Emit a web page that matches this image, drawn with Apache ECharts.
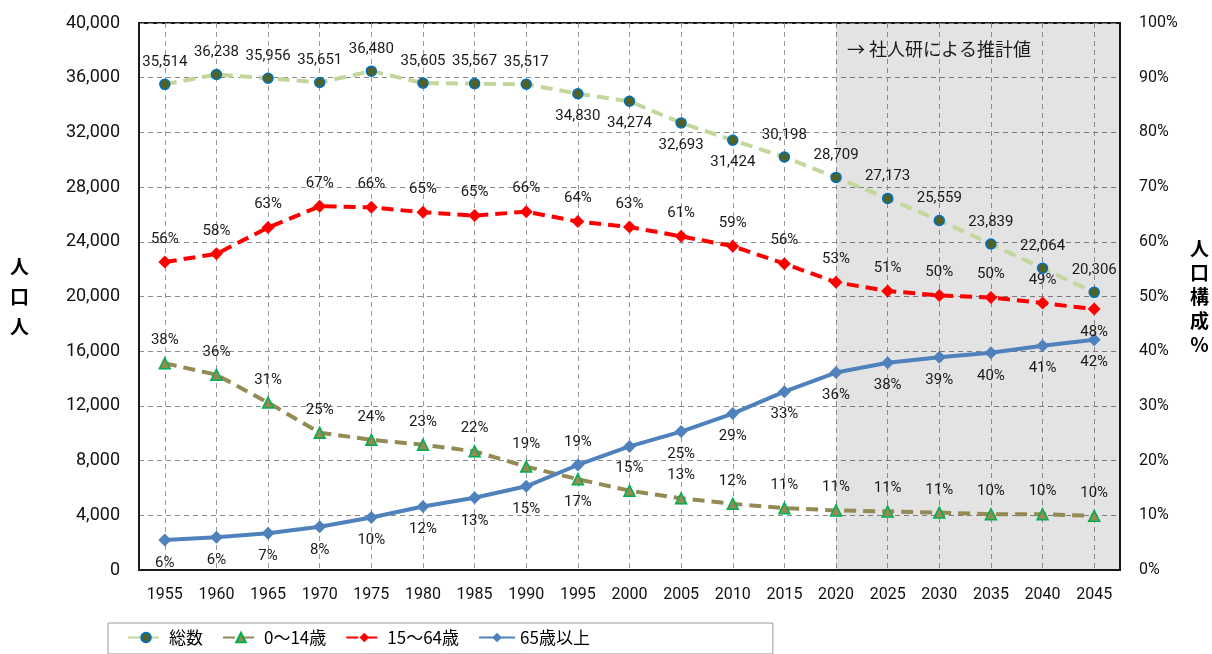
<!DOCTYPE html>
<html>
<head>
<meta charset="utf-8">
<script src="https://cdn.jsdelivr.net/npm/echarts@6/dist/echarts.min.js"></script>
<style>
html,body{margin:0;padding:0;background:#fff;}
#main{width:1212px;height:654px;}
</style>
</head>
<body>
<div id="main"></div>
<script>
// ---- data ----
const years = ['1955','1960','1965','1970','1975','1980','1985','1990','1995','2000','2005','2010','2015','2020','2025','2030','2035','2040','2045'];
const total = [35514, 36238, 35956, 35651, 36480, 35605, 35567, 35517, 34830, 34274, 32693, 31424, 30198, 28709, 27173, 25559, 23839, 22064, 20306];
const age0to14 = [37.8, 35.7, 30.6, 25.1, 23.8, 22.9, 21.7, 18.9, 16.6, 14.5, 13.1, 12.1, 11.3, 10.9, 10.7, 10.5, 10.2, 10.2, 9.9];
const age15to64 = [56.3, 57.8, 62.6, 66.5, 66.3, 65.4, 64.8, 65.5, 63.7, 62.7, 61.0, 59.2, 56.0, 52.6, 51.0, 50.2, 49.8, 48.8, 47.7];
const age65plus = [5.5, 6.0, 6.7, 7.9, 9.6, 11.6, 13.2, 15.3, 19.2, 22.6, 25.3, 28.6, 32.6, 36.1, 37.9, 38.9, 39.7, 41.0, 42.1];
const seriesNames = ['総数', '0〜14歳', '15〜64歳', '65歳以上'];
const projectionStart = '2020';
const projectionLabel = '→ 社人研による推計値';

// label placement exceptions (index -> position / hidden)
const totalBelow = [8, 9, 10, 11];
const young0Below = [8];
const old65Above = [8];
const old65Hidden = [9];

const fmtNum = v => String(v).replace(/\B(?=(\d{3})+(?!\d))/g, ',');
const pct = v => Math.round(v) + '%';

const labelBase = {show: true, color: '#1a1a1a', fontSize: 15, fontFamily: 'Roboto, sans-serif', distance: 9};

function buildData(values, altPos, altIdx, hiddenIdx) {
  return values.map((v, i) => {
    const item = {value: v};
    if (altIdx.indexOf(i) >= 0) item.label = {position: altPos};
    if (hiddenIdx && hiddenIdx.indexOf(i) >= 0) item.label = {show: false};
    return item;
  });
}

const chart = echarts.init(document.getElementById('main'), null, {renderer: 'canvas'});

const option = {
  backgroundColor: '#ffffff',
  animation: false,
  textStyle: {fontFamily: "Roboto, 'Noto Sans CJK JP', sans-serif"},
  grid: {left: 139, right: 91, top: 23, bottom: 84, show: true, borderColor: '#1a1a1a', borderWidth: 2, backgroundColor: 'transparent'},
  legend: {
    data: seriesNames,
    left: 108, top: 623,
    padding: [6, 183, 8, 19],
    itemGap: 19, itemWidth: 36, itemHeight: 12,
    borderColor: '#9a9a9a', borderWidth: 1,
    textStyle: {fontSize: 17, color: '#000', fontFamily: "'Noto Sans CJK JP', sans-serif"}
  },
  xAxis: {
    type: 'category',
    data: years,
    boundaryGap: true,
    axisLine: {show: true, lineStyle: {color: '#1a1a1a', width: 2}},
    axisTick: {show: false},
    axisLabel: {fontSize: 16, color: '#111', margin: 17, interval: 0},
    splitLine: {show: true, alignWithLabel: true, interval: 0, lineStyle: {color: '#9a9a9a', type: [5, 4], width: 1}}
  },
  yAxis: [
    {
      type: 'value', min: 0, max: 40000, interval: 4000,
      name: '人\n口\n人', nameLocation: 'middle', nameRotate: 0, nameGap: 110,
      nameTextStyle: {fontSize: 19, fontWeight: 'bold', color: '#000', lineHeight: 30, fontFamily: "'Noto Sans CJK JP', sans-serif"},
      axisLine: {show: true, lineStyle: {color: '#1a1a1a', width: 2}},
      axisTick: {show: false},
      axisLabel: {fontSize: 18, color: '#111', margin: 19, formatter: v => fmtNum(v)},
      splitLine: {show: true, lineStyle: {color: '#8a8a8a', type: [5, 4], width: 1}}
    },
    {
      type: 'value', min: 0, max: 100, interval: 10,
      name: '人\n口\n構\n成\n％', nameLocation: 'middle', nameRotate: 0, nameGap: 70,
      nameTextStyle: {fontSize: 19, fontWeight: 'bold', color: '#000', lineHeight: 24, fontFamily: "'Noto Sans CJK JP', sans-serif"},
      axisLine: {show: true, lineStyle: {color: '#1a1a1a', width: 2}},
      axisTick: {show: false},
      axisLabel: {fontSize: 16, color: '#111', margin: 19, formatter: '{value}%'},
      splitLine: {show: false}
    }
  ],
  series: [
    {
      name: seriesNames[0], type: 'line', yAxisIndex: 0, z: 5,
      data: buildData(total, 'bottom', totalBelow),
      symbol: 'circle', symbolSize: 10,
      lineStyle: {color: '#C3D69B', width: 4, type: [12, 7]},
      itemStyle: {color: '#4F6228', borderColor: '#0070C0', borderWidth: 1.5},
      label: Object.assign({}, labelBase, {position: 'top', formatter: p => fmtNum(p.value)}),
      markArea: {
        silent: true,
        itemStyle: {color: 'rgba(0,0,0,0.11)'},
        label: {show: true, position: [11, 17], fontSize: 18, color: '#1a1a1a', fontFamily: "'Noto Sans CJK JP', sans-serif"},
        data: [[{name: projectionLabel, xAxis: projectionStart}, {}]]
      }
    },
    {
      name: seriesNames[1], type: 'line', yAxisIndex: 1, z: 4,
      data: buildData(age0to14, 'bottom', young0Below),
      symbol: 'triangle', symbolSize: 11,
      lineStyle: {color: '#948A54', width: 4, type: [12, 7]},
      itemStyle: {color: '#948A54', borderColor: '#00B050', borderWidth: 1.5},
      label: Object.assign({}, labelBase, {position: 'top', formatter: p => pct(p.value)})
    },
    {
      name: seriesNames[2], type: 'line', yAxisIndex: 1, z: 4,
      data: buildData(age15to64, 'bottom', [18]),
      symbol: 'diamond', symbolSize: 13,
      lineStyle: {color: '#FF0000', width: 4, type: [12, 7]},
      itemStyle: {color: '#FF0000'},
      label: Object.assign({}, labelBase, {position: 'top', formatter: p => pct(p.value)})
    },
    {
      name: seriesNames[3], type: 'line', yAxisIndex: 1, z: 4,
      data: buildData(age65plus, 'top', old65Above, old65Hidden),
      symbol: 'diamond', symbolSize: 13,
      lineStyle: {color: '#4F81BD', width: 4},
      itemStyle: {color: '#4F81BD'},
      label: Object.assign({}, labelBase, {position: 'bottom', formatter: p => pct(p.value)})
    }
  ]
};
chart.setOption(option);
</script>
</body>
</html>
